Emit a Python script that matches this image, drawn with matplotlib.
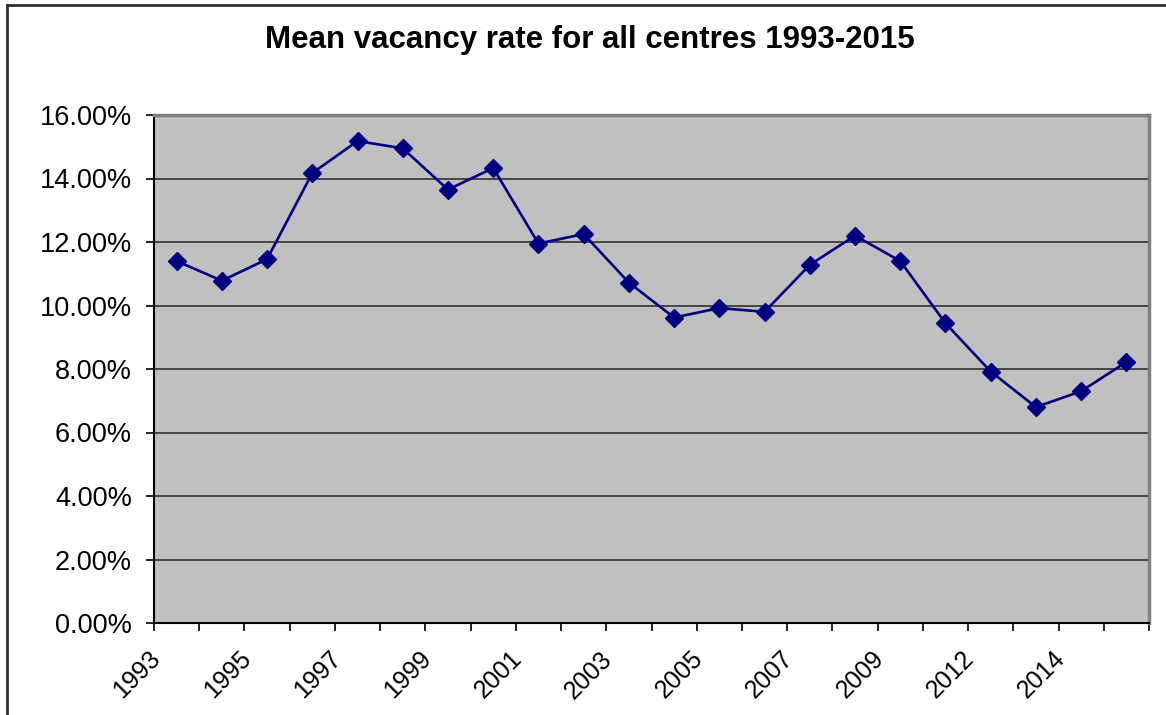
import numpy as np
import matplotlib.pyplot as plt
import matplotlib.transforms as mtransforms
from matplotlib.lines import Line2D

# Data (vacancy rate in %)
years = ['1993', '1994', '1995', '1996', '1997', '1998', '1999', '2000',
         '2001', '2002', '2003', '2004', '2005', '2006', '2007', '2008',
         '2009', '2010', '2012', '2013', '2014', '2015']
vacancy = [11.40, 10.78, 11.46, 14.17, 15.18, 14.95, 13.65, 14.33,
           11.95, 12.25, 10.72, 9.62, 9.92, 9.80, 11.28, 12.20,
           11.40, 9.44, 7.92, 6.80, 7.30, 8.22]
title = "Mean vacancy rate for all centres 1993-2015"

plt.rcParams['font.family'] = ['Liberation Sans', 'DejaVu Sans']

fig = plt.figure(figsize=(11.66, 7.15), dpi=100)
ax = fig.add_axes([154 / 1166, 1 - 623 / 715, (1149 - 154) / 1166, (623 - 115) / 715])
ax.set_facecolor('#C0C0C0')

x = np.arange(len(years))
ax.plot(x, vacancy, color='#000080', linewidth=1.9, marker='D', markersize=9,
        markerfacecolor='#000080', markeredgecolor='#000080', zorder=3)

# y axis
ax.set_ylim(0, 16)
yt = np.arange(0, 17, 2)
ax.set_yticks(yt)
ax.set_yticklabels([f"{v:.2f}%" for v in yt])
ax.yaxis.grid(True, color='#303030', linewidth=1.2)
ax.set_axisbelow(True)

# x axis: ticks on category boundaries, label every other year
ax.set_xlim(-0.5, len(years) - 0.5)
bounds = np.arange(len(years) + 1) - 0.5
labels = [years[k] if (k < len(years) and k % 2 == 0) else '' for k in range(len(bounds))]
ax.set_xticks(bounds)
ax.set_xticklabels(labels)

ax.tick_params(axis='y', direction='out', length=6, width=1.2, pad=10,
               labelsize=19.5, colors='black')
ax.tick_params(axis='x', direction='out', length=6, width=1.2, pad=11,
               labelsize=18, colors='black')
shift = mtransforms.ScaledTranslation(-6 / 100, 0, fig.dpi_scale_trans)
for lab in ax.get_xticklabels():
    lab.set_rotation(45)
    lab.set_ha('right')
    lab.set_rotation_mode('anchor')
    lab.set_transform(lab.get_transform() + shift)

for side in ['left', 'bottom']:
    ax.spines[side].set_color('black')
    ax.spines[side].set_linewidth(1.5)
for side in ['top', 'right']:
    ax.spines[side].set_color('#808080')
    ax.spines[side].set_linewidth(2.5)

fig.text(590 / 1166, 1 - 48 / 715, title, ha='center', va='baseline',
         fontsize=22.5, fontweight='bold')

# chart area border (top and left visible)
fig.add_artist(Line2D([7 / 1166, 1.0], [1 - 5 / 715, 1 - 5 / 715],
                      color='#303030', linewidth=2, transform=fig.transFigure))
fig.add_artist(Line2D([7 / 1166, 7 / 1166], [0.0, 1 - 5 / 715],
                      color='#303030', linewidth=2, transform=fig.transFigure))

fig.savefig('out.png', dpi=100)
